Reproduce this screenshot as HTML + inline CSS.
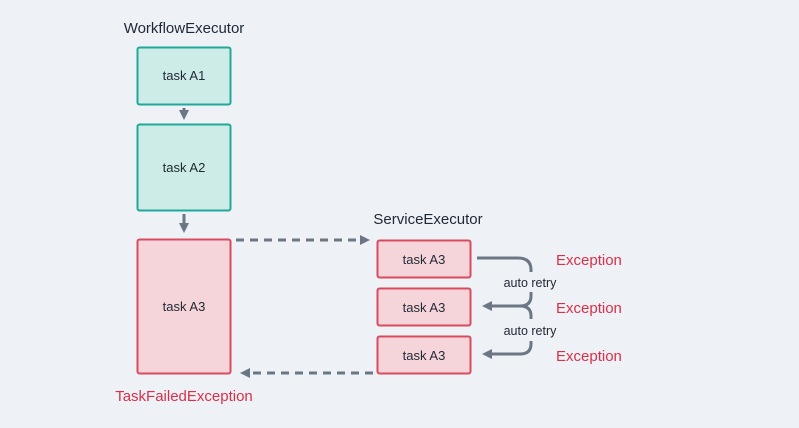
<!DOCTYPE html>
<html><head><style>
body{margin:0;width:799px;height:423px;background:#eef1f6;overflow:hidden}
svg text{font-family:"Liberation Sans",sans-serif}
</style></head><body>
<svg width="799" height="423" xmlns="http://www.w3.org/2000/svg">
<defs>
<marker id="ah" markerWidth="10" markerHeight="10" refX="4" refY="5" orient="auto" markerUnits="userSpaceOnUse"><path d="M0,0 L10,5 L0,10 z" fill="#6b7785"/></marker>
</defs>
<text x="184" y="33" font-size="15" fill="#1f2933" text-anchor="middle">WorkflowExecutor</text>
<rect x="137.5" y="47.5" width="93" height="57" rx="2" fill="#cdece7" stroke="#1fa999" stroke-width="2"/>
<text x="184" y="80" font-size="13" fill="#1f2933" text-anchor="middle">task A1</text>
<rect x="137.5" y="124.5" width="93" height="86" rx="2" fill="#cdece7" stroke="#1fa999" stroke-width="2"/>
<text x="184" y="172" font-size="13" fill="#1f2933" text-anchor="middle">task A2</text>
<rect x="137.5" y="239.5" width="93" height="134" rx="2" fill="#f6d5da" stroke="#d94a5c" stroke-width="2"/>
<text x="184" y="311" font-size="13" fill="#1f2933" text-anchor="middle">task A3</text>
<text x="184" y="401" font-size="15" fill="#d9304a" text-anchor="middle">TaskFailedException</text>
<line x1="184" y1="108" x2="184" y2="114" stroke="#6b7785" stroke-width="3" marker-end="url(#ah)"/>
<line x1="184" y1="214" x2="184" y2="227" stroke="#6b7785" stroke-width="3" marker-end="url(#ah)"/>
<line x1="236" y1="240" x2="364" y2="240" stroke="#6b7785" stroke-width="3" stroke-dasharray="8,6" marker-end="url(#ah)"/>
<line x1="373" y1="373" x2="246" y2="373" stroke="#6b7785" stroke-width="3" stroke-dasharray="8,6" marker-end="url(#ah)"/>
<text x="428" y="224" font-size="15" fill="#1f2933" text-anchor="middle">ServiceExecutor</text>
<rect x="377.5" y="240.5" width="93" height="37" rx="2" fill="#f6d5da" stroke="#d94a5c" stroke-width="2"/>
<text x="424" y="264" font-size="13" fill="#1f2933" text-anchor="middle">task A3</text>
<rect x="377.5" y="288.5" width="93" height="37" rx="2" fill="#f6d5da" stroke="#d94a5c" stroke-width="2"/>
<text x="424" y="312" font-size="13" fill="#1f2933" text-anchor="middle">task A3</text>
<rect x="377.5" y="336.5" width="93" height="37" rx="2" fill="#f6d5da" stroke="#d94a5c" stroke-width="2"/>
<text x="424" y="360" font-size="13" fill="#1f2933" text-anchor="middle">task A3</text>
<g fill="none" stroke="#6b7785" stroke-width="3">
<path d="M477,258 H518 Q531,258 531,270 V272"/>
<path d="M531,292 V296 Q531,306 520,306 H488" marker-end="url(#ah)"/>
<path d="M520,306 Q531,306 531,316 V319"/>
<path d="M531,341 V344 Q531,354 520,354 H488" marker-end="url(#ah)"/>
</g>
<text x="530" y="287" font-size="12.5" fill="#1f2933" text-anchor="middle">auto retry</text>
<text x="530" y="335" font-size="12.5" fill="#1f2933" text-anchor="middle">auto retry</text>
<text x="556" y="265" font-size="15" fill="#d9304a">Exception</text>
<text x="556" y="313" font-size="15" fill="#d9304a">Exception</text>
<text x="556" y="361" font-size="15" fill="#d9304a">Exception</text>
</svg>
</body></html>
